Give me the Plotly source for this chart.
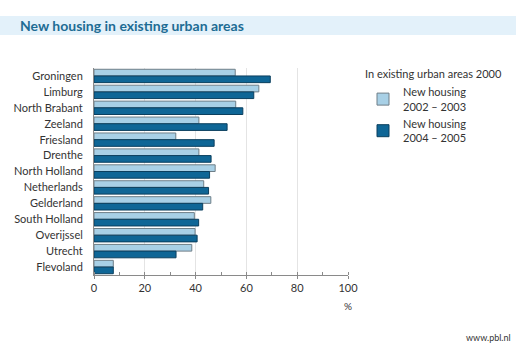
import plotly.graph_objects as go

regions = ["Groningen", "Limburg", "North Brabant", "Zeeland", "Friesland", "Drenthe",
           "North Holland", "Netherlands", "Gelderland", "South Holland", "Overijssel",
           "Utrecht", "Flevoland"]
housing_2002_2003 = [55.6, 64.9, 55.8, 41.3, 32.2, 41.3, 47.7, 43.2, 46.0, 39.5, 39.8, 38.5, 7.6]
housing_2004_2005 = [69.4, 62.9, 58.6, 52.4, 47.3, 46.1, 45.5, 45.1, 42.8, 41.2, 40.6, 32.3, 7.6]
series_names = ["New housing<br>2002 – 2003", "New housing<br>2004 – 2005"]
x_ticks = [0, 20, 40, 60, 80, 100]

W, H = 516, 344
L, R, T, B = 94, 168, 68, 69
pw, ph = W - L - R, H - T - B
FONT = "Lato, Open Sans, sans-serif"

fig = go.Figure()
fig.add_trace(go.Bar(y=regions, x=housing_2002_2003, orientation="h", name=series_names[0],
                     marker=dict(color="#a8d0e6", line=dict(color="#6f7f88", width=1))))
fig.add_trace(go.Bar(y=regions, x=housing_2004_2005, orientation="h", name=series_names[1],
                     marker=dict(color="#0f6696", line=dict(color="#0b3f5e", width=1))))

fig.update_layout(
    width=W, height=H,
    margin=dict(l=L, r=R, t=T, b=B),
    paper_bgcolor="white", plot_bgcolor="white",
    barmode="group", bargap=0.16, bargroupgap=0.0,
    font=dict(family=FONT, size=11, color="#333333"),
    xaxis=dict(range=[0, 100], tickvals=x_ticks, showgrid=True, gridcolor="#e4e4e4",
               gridwidth=1, showline=True, linecolor="#8a8a8a", linewidth=1,
               ticks="outside", ticklen=3, tickcolor="#8a8a8a",
               minor=dict(dtick=10, ticks="inside", ticklen=3, tickcolor="#8a8a8a"),
               zeroline=False, tickfont=dict(size=11, color="#333333")),
    yaxis=dict(autorange="reversed", showline=True, linecolor="#8a8a8a", linewidth=1,
               ticks="", ticklabelstandoff=8, tickfont=dict(size=11, color="#333333")),
    legend=dict(x=(363 - L) / pw, y=1.0 + 4 / ph, xanchor="left", yanchor="top",
                title=dict(text="In existing urban areas 2000", font=dict(size=11)),
                font=dict(size=11), tracegroupgap=4, traceorder="normal",
                bgcolor="rgba(0,0,0,0)"),
)

# title band
fig.add_shape(type="rect", xref="paper", yref="paper",
              x0=-L / pw, x1=(W - L) / pw, y0=(H - B - 35) / ph, y1=(H - B - 16) / ph,
              fillcolor="#e3f1fa", line=dict(width=0), layer="below")
fig.add_annotation(text="<b>New housing in existing urban areas</b>", xref="paper", yref="paper",
                   x=(18 - L) / pw, y=(H - B - 25.5) / ph, xanchor="left", yanchor="middle",
                   showarrow=False, font=dict(size=14, color="#1e6c94", family=FONT))
fig.add_annotation(text="%", xref="x", yref="paper", x=100, y=(H - B - 306) / ph,
                   xanchor="center", yanchor="middle", showarrow=False,
                   font=dict(size=10, color="#333333"))
fig.add_annotation(text="www.pbl.nl", xref="paper", yref="paper", x=(513 - L) / pw,
                   y=(H - B - 337) / ph, xanchor="right", yanchor="middle", showarrow=False,
                   font=dict(size=9, color="#333333"))

fig.write_html("out.html")
